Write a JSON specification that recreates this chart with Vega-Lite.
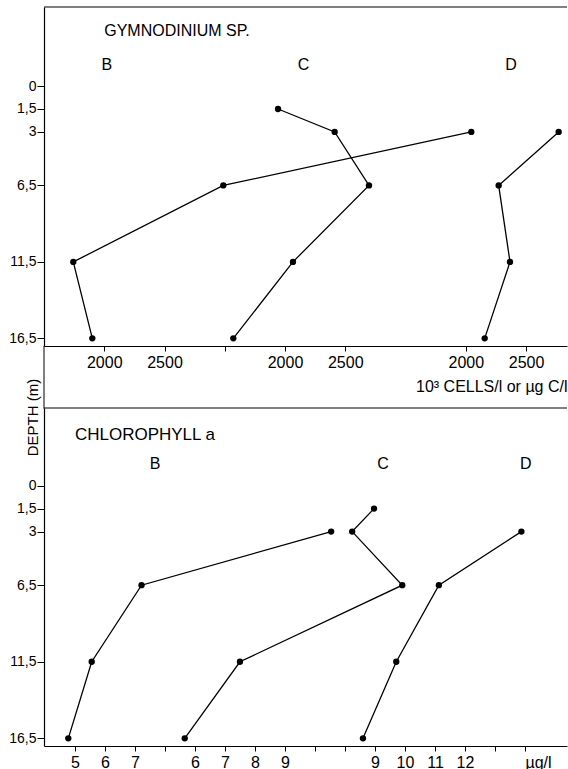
{
  "$schema": "https://vega.github.io/schema/vega-lite/v6.json",
  "background": "white",
  "padding": {"left": 8, "top": 6, "right": 0, "bottom": 0},
  "bounds": "flush",
  "spacing": 62,
  "datasets": {
    "gym": [
      {"station": "B", "depth": 3, "value": 5046},
      {"station": "B", "depth": 6.5, "value": 2988},
      {"station": "B", "depth": 11.5, "value": 1743},
      {"station": "B", "depth": 16.5, "value": 1901},
      {"station": "C", "depth": 1.5, "value": 1942},
      {"station": "C", "depth": 3, "value": 2412},
      {"station": "C", "depth": 6.5, "value": 2697},
      {"station": "C", "depth": 11.5, "value": 2066},
      {"station": "C", "depth": 16.5, "value": 1571},
      {"station": "D", "depth": 3, "value": 2771},
      {"station": "D", "depth": 6.5, "value": 2273},
      {"station": "D", "depth": 11.5, "value": 2367},
      {"station": "D", "depth": 16.5, "value": 2157}
    ],
    "chl": [
      {"station": "B", "depth": 3, "value": 13.54},
      {"station": "B", "depth": 6.5, "value": 7.22},
      {"station": "B", "depth": 11.5, "value": 5.56},
      {"station": "B", "depth": 16.5, "value": 4.78},
      {"station": "C", "depth": 1.5, "value": 11.97},
      {"station": "C", "depth": 3, "value": 11.24},
      {"station": "C", "depth": 6.5, "value": 12.91},
      {"station": "C", "depth": 11.5, "value": 7.5},
      {"station": "C", "depth": 16.5, "value": 5.66},
      {"station": "D", "depth": 3, "value": 13.88},
      {"station": "D", "depth": 6.5, "value": 11.13},
      {"station": "D", "depth": 11.5, "value": 9.71},
      {"station": "D", "depth": 16.5, "value": 8.6}
    ]
  },
  "vconcat": [
    {
      "width": 523,
      "height": 339,
      "resolve": {"scale": {"x": "independent"}},
      "layer": [
        {
          "layer": [
            {
              "data": {"name": "gym"},
              "transform": [{"filter": "datum.station == 'B'"}],
              "mark": {"type": "line", "color": "black", "strokeWidth": 1.3, "point": {"filled": true, "size": 40, "color": "black", "opacity": 1}},
              "encoding": {
                "x": {"field": "value", "type": "quantitative", "scale": {"domain": [1500, 5840], "nice": false, "zero": false},
                  "axis": {"orient": "bottom", "values": [2000, 2500, 3000], "format": "d", "labelExpr": "datum.value == 3000 ? '' : datum.label", "title": null, "domain": true}},
                "y": {"field": "depth", "type": "quantitative", "scale": {"domain": [-5.17, 17.0], "reverse": true, "nice": false, "zero": false},
                  "axis": {"values": [0, 1.5, 3, 6.5, 11.5, 16.5], "labelExpr": "replace(format(datum.value, '~g'), '.', ',')", "tickSize": 7, "labelPadding": 1, "labelFontSize": 14,
                    "title": "DEPTH (m)", "titleX": -12, "titleY": 410, "titleAngle": 270, "titleAlign": "center", "titleBaseline": "middle", "titleFontSize": 15, "titleFontWeight": "normal"}},
                "order": {"field": "depth"}
              }
            },
            {
              "data": {"values": [{}]},
              "mark": {"type": "rule", "color": "black", "strokeWidth": 1.2},
              "encoding": {
                "x": {"datum": 1500, "type": "quantitative", "scale": {"domain": [1500, 5840], "nice": false, "zero": false}},
                "x2": {"datum": 5840},
                "y": {"datum": -5.17, "type": "quantitative", "scale": {"domain": [-5.17, 17.0], "reverse": true, "nice": false, "zero": false}}
              }
            },
            {
              "data": {"values": [{}]},
              "mark": {"type": "rule", "color": "black", "strokeWidth": 1},
              "encoding": {
                "x": {"datum": 1500, "type": "quantitative", "scale": {"domain": [1500, 5840], "nice": false, "zero": false}},
                "y": {"datum": 17.0, "type": "quantitative", "scale": {"domain": [-5.17, 17.0], "reverse": true, "nice": false, "zero": false}},
                "y2": {"datum": 21.1}
              }
            },
            {
              "data": {"values": [{}]},
              "mark": {"type": "text", "align": "left", "baseline": "middle", "fontSize": 16, "color": "black"},
              "encoding": {
                "x": {"datum": 2000, "type": "quantitative", "scale": {"domain": [1500, 5840], "nice": false, "zero": false}},
                "y": {"datum": -3.6, "type": "quantitative", "scale": {"domain": [-5.17, 17.0], "reverse": true, "nice": false, "zero": false}},
                "text": {"value": "GYMNODINIUM SP."}
              }
            },
            {
              "data": {"values": [{}]},
              "mark": {"type": "text", "align": "center", "baseline": "middle", "fontSize": 16, "color": "black"},
              "encoding": {
                "x": {"datum": 2022, "type": "quantitative", "scale": {"domain": [1500, 5840], "nice": false, "zero": false}},
                "y": {"datum": -1.37, "type": "quantitative", "scale": {"domain": [-5.17, 17.0], "reverse": true, "nice": false, "zero": false}},
                "text": {"value": "B"}
              }
            }
          ]
        },
        {
          "layer": [
            {
              "data": {"name": "gym"},
              "transform": [{"filter": "datum.station == 'C'"}],
              "mark": {"type": "line", "color": "black", "strokeWidth": 1.3, "point": {"filled": true, "size": 40, "color": "black", "opacity": 1}},
              "encoding": {
                "x": {"field": "value", "type": "quantitative", "scale": {"domain": [0, 4340], "nice": false, "zero": false},
                  "axis": {"orient": "bottom", "values": [2000, 2500], "format": "d", "title": null, "domain": false}},
                "y": {"field": "depth", "type": "quantitative", "scale": {"domain": [-5.17, 17.0], "reverse": true, "nice": false, "zero": false}},
                "order": {"field": "depth"}
              }
            },
            {
              "data": {"values": [{}]},
              "mark": {"type": "text", "align": "center", "baseline": "middle", "fontSize": 16, "color": "black"},
              "encoding": {
                "x": {"datum": 2153, "type": "quantitative", "scale": {"domain": [0, 4340], "nice": false, "zero": false}},
                "y": {"datum": -1.37, "type": "quantitative", "scale": {"domain": [-5.17, 17.0], "reverse": true, "nice": false, "zero": false}},
                "text": {"value": "C"}
              }
            }
          ]
        },
        {
          "layer": [
            {
              "data": {"name": "gym"},
              "transform": [{"filter": "datum.station == 'D'"}],
              "mark": {"type": "line", "color": "black", "strokeWidth": 1.3, "point": {"filled": true, "size": 40, "color": "black", "opacity": 1}},
              "encoding": {
                "x": {"field": "value", "type": "quantitative", "scale": {"domain": [-1500, 2840], "nice": false, "zero": false},
                  "axis": {"orient": "bottom", "values": [2000, 2500], "format": "d", "domain": false,
                    "title": "10³ CELLS/l or µg C/l", "titleX": 523, "titleY": 40, "titleAlign": "right", "titleBaseline": "middle", "titleFontSize": 16, "titleFontWeight": "normal"}},
                "y": {"field": "depth", "type": "quantitative", "scale": {"domain": [-5.17, 17.0], "reverse": true, "nice": false, "zero": false}},
                "order": {"field": "depth"}
              }
            },
            {
              "data": {"values": [{}]},
              "mark": {"type": "text", "align": "center", "baseline": "middle", "fontSize": 16, "color": "black"},
              "encoding": {
                "x": {"datum": 2375, "type": "quantitative", "scale": {"domain": [-1500, 2840], "nice": false, "zero": false}},
                "y": {"datum": -1.37, "type": "quantitative", "scale": {"domain": [-5.17, 17.0], "reverse": true, "nice": false, "zero": false}},
                "text": {"value": "D"}
              }
            }
          ]
        }
      ]
    },
    {
      "width": 523,
      "height": 338,
      "resolve": {"scale": {"x": "independent"}},
      "layer": [
        {
          "layer": [
            {
              "data": {"name": "chl"},
              "transform": [{"filter": "datum.station == 'B'"}],
              "mark": {"type": "line", "color": "black", "strokeWidth": 1.3, "point": {"filled": true, "size": 40, "color": "black", "opacity": 1}},
              "encoding": {
                "x": {"field": "value", "type": "quantitative", "scale": {"domain": [3.97, 21.4], "nice": false, "zero": false},
                  "axis": {"orient": "bottom", "values": [5, 6, 7, 8], "format": "d", "labelExpr": "datum.value == 8 ? '' : datum.label", "title": null, "domain": true}},
                "y": {"field": "depth", "type": "quantitative", "scale": {"domain": [-5.07, 17.0], "reverse": true, "nice": false, "zero": false},
                  "axis": {"values": [0, 1.5, 3, 6.5, 11.5, 16.5], "labelExpr": "replace(format(datum.value, '~g'), '.', ',')", "tickSize": 7, "labelPadding": 1, "labelFontSize": 14, "title": null}},
                "order": {"field": "depth"}
              }
            },
            {
              "data": {"values": [{}]},
              "mark": {"type": "rule", "color": "black", "strokeWidth": 1.2},
              "encoding": {
                "x": {"datum": 3.97, "type": "quantitative", "scale": {"domain": [3.97, 21.4], "nice": false, "zero": false}},
                "x2": {"datum": 21.4},
                "y": {"datum": -5.07, "type": "quantitative", "scale": {"domain": [-5.07, 17.0], "reverse": true, "nice": false, "zero": false}}
              }
            },
            {
              "data": {"values": [{}]},
              "mark": {"type": "text", "align": "left", "baseline": "middle", "fontSize": 17, "color": "black"},
              "encoding": {
                "x": {"datum": 5.0, "type": "quantitative", "scale": {"domain": [3.97, 21.4], "nice": false, "zero": false}},
                "y": {"datum": -3.29, "type": "quantitative", "scale": {"domain": [-5.07, 17.0], "reverse": true, "nice": false, "zero": false}},
                "text": {"value": "CHLOROPHYLL a"}
              }
            },
            {
              "data": {"values": [{}]},
              "mark": {"type": "text", "align": "center", "baseline": "middle", "fontSize": 16, "color": "black"},
              "encoding": {
                "x": {"datum": 7.67, "type": "quantitative", "scale": {"domain": [3.97, 21.4], "nice": false, "zero": false}},
                "y": {"datum": -1.39, "type": "quantitative", "scale": {"domain": [-5.07, 17.0], "reverse": true, "nice": false, "zero": false}},
                "text": {"value": "B"}
              }
            }
          ]
        },
        {
          "layer": [
            {
              "data": {"name": "chl"},
              "transform": [{"filter": "datum.station == 'C'"}],
              "mark": {"type": "line", "color": "black", "strokeWidth": 1.3, "point": {"filled": true, "size": 40, "color": "black", "opacity": 1}},
              "encoding": {
                "x": {"field": "value", "type": "quantitative", "scale": {"domain": [0.97, 18.4], "nice": false, "zero": false},
                  "axis": {"orient": "bottom", "values": [6, 7, 8, 9, 10, 11], "format": "d", "labelExpr": "datum.value >= 10 ? '' : datum.label", "title": null, "domain": false}},
                "y": {"field": "depth", "type": "quantitative", "scale": {"domain": [-5.07, 17.0], "reverse": true, "nice": false, "zero": false}},
                "order": {"field": "depth"}
              }
            },
            {
              "data": {"values": [{}]},
              "mark": {"type": "text", "align": "center", "baseline": "middle", "fontSize": 16, "color": "black"},
              "encoding": {
                "x": {"datum": 12.27, "type": "quantitative", "scale": {"domain": [0.97, 18.4], "nice": false, "zero": false}},
                "y": {"datum": -1.39, "type": "quantitative", "scale": {"domain": [-5.07, 17.0], "reverse": true, "nice": false, "zero": false}},
                "text": {"value": "C"}
              }
            }
          ]
        },
        {
          "layer": [
            {
              "data": {"name": "chl"},
              "transform": [{"filter": "datum.station == 'D'"}],
              "mark": {"type": "line", "color": "black", "strokeWidth": 1.3, "point": {"filled": true, "size": 40, "color": "black", "opacity": 1}},
              "encoding": {
                "x": {"field": "value", "type": "quantitative", "scale": {"domain": [-2.03, 15.4], "nice": false, "zero": false},
                  "axis": {"orient": "bottom", "values": [9, 10, 11, 12, 13, 14], "format": "d",
                    "labelExpr": "datum.value == 14 ? 'µg/l' : (datum.value == 13 ? '' : datum.label)",
                    "labelAlign": {"condition": {"test": "datum.value == 14", "value": "left"}, "value": "center"},
                    "title": null, "domain": false}},
                "y": {"field": "depth", "type": "quantitative", "scale": {"domain": [-5.07, 17.0], "reverse": true, "nice": false, "zero": false}},
                "order": {"field": "depth"}
              }
            },
            {
              "data": {"values": [{}]},
              "mark": {"type": "text", "align": "center", "baseline": "middle", "fontSize": 16, "color": "black"},
              "encoding": {
                "x": {"datum": 14.03, "type": "quantitative", "scale": {"domain": [-2.03, 15.4], "nice": false, "zero": false}},
                "y": {"datum": -1.39, "type": "quantitative", "scale": {"domain": [-5.07, 17.0], "reverse": true, "nice": false, "zero": false}},
                "text": {"value": "D"}
              }
            }
          ]
        }
      ]
    }
  ],
  "config": {
    "font": "Liberation Sans",
    "view": {"stroke": null},
    "axis": {
      "grid": false,
      "domainColor": "black",
      "domainWidth": 1.2,
      "tickColor": "black",
      "tickSize": 5,
      "labelColor": "black",
      "titleColor": "black",
      "labelFontSize": 16,
      "labelPadding": 3,
      "labelFont": "Liberation Sans",
      "titleFont": "Liberation Sans"
    }
  }
}
